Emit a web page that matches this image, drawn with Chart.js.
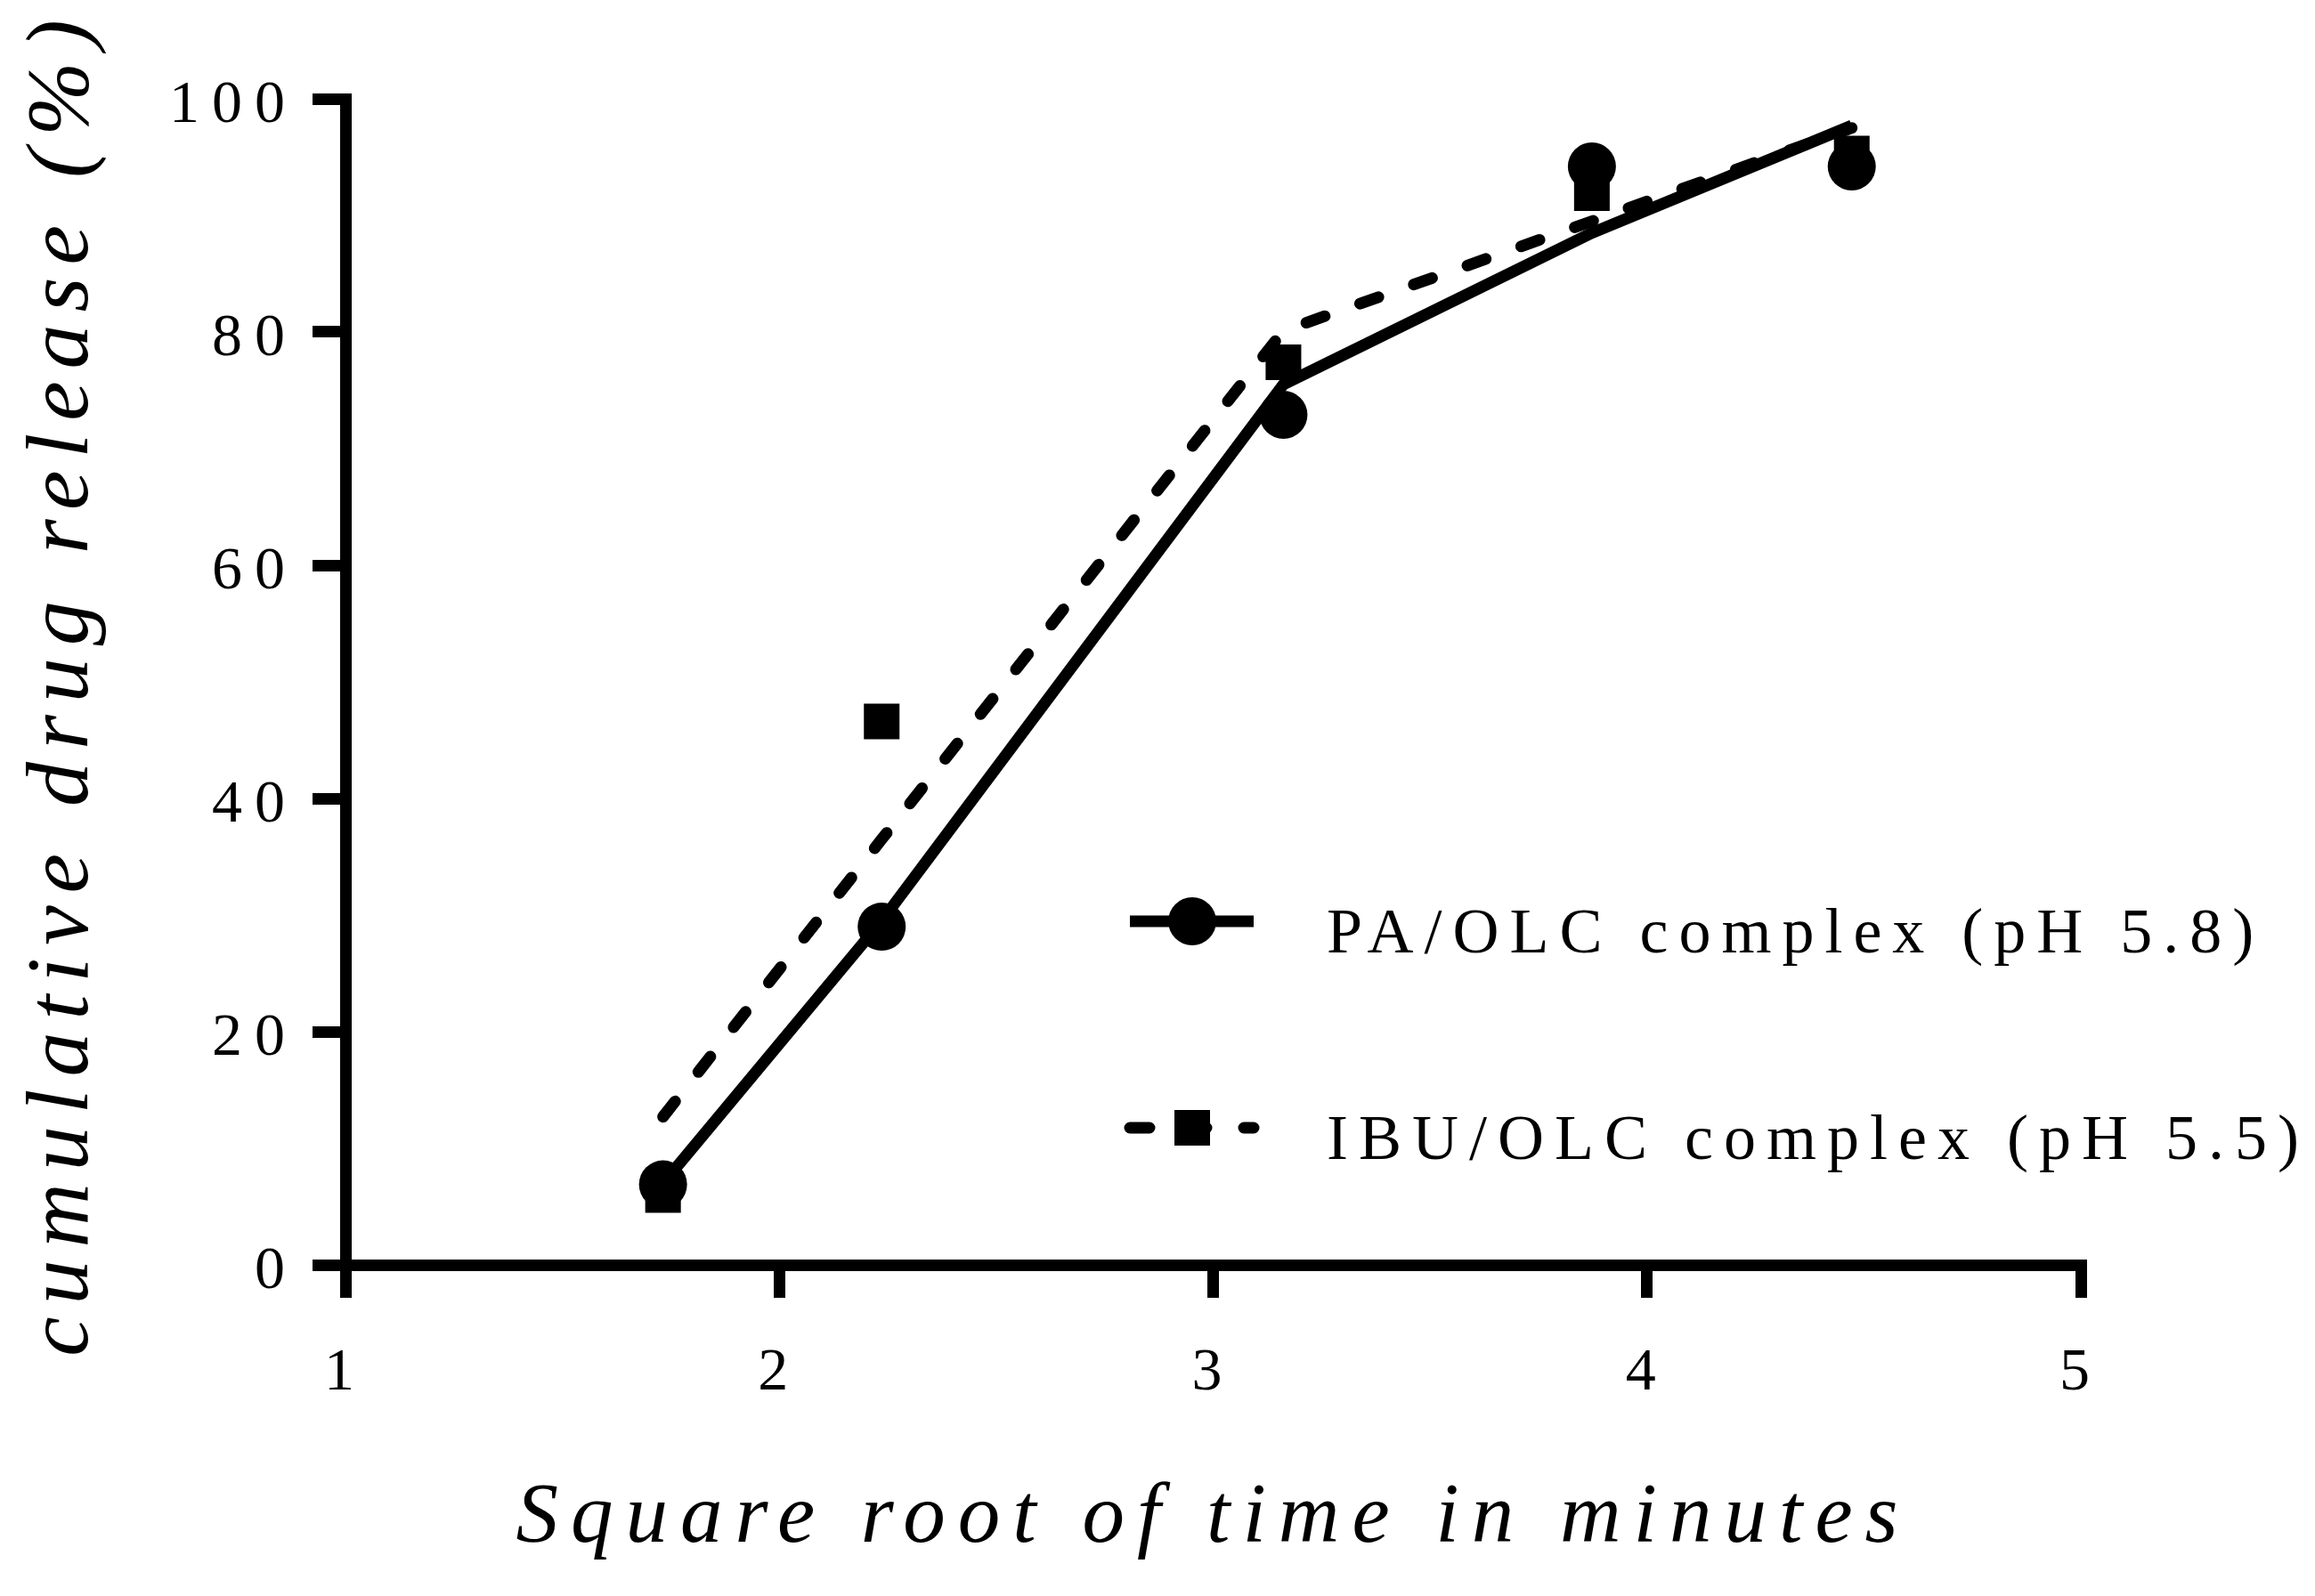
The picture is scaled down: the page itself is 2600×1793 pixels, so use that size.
<!DOCTYPE html>
<html>
<head>
<meta charset="utf-8">
<script src="https://cdn.jsdelivr.net/npm/chart.js@4.4.1/dist/chart.umd.min.js"></script>
<style>
  html, body { margin: 0; padding: 0; background: #fff; }
</style>
</head>
<body>
<canvas id="graf" width="2600" height="1793"></canvas>
<script>
// odmocnina casu (3, 5, 10, 15, 20 min)
let CAS = [1.732, 2.236, 3.162, 3.873, 4.472];

// namerene body
let PA_BODY = [6.9, 29.0, 72.9, 94.2, 94.2];
let IBU_BODY = [6.0, 46.6, 77.4, 91.9, 95.3];

// prolozene krivky
let PA_FIT = [7.0, 29.5, 75.5, 88.5, 97.7];
let IBU_FIT = [12.7, 36.5, 80.1, 89.5, 97.5];

let NAZVY = ['PA/OLC complex (pH 5.8)', 'IBU/OLC complex (pH 5.5)'];
let X_TICKY = [1, 2, 3, 4, 5];
let Y_TICKY = [0, 20, 40, 60, 80, 100];

function body(ys) {
    return CAS.map((x, i) => ({ x: x, y: ys[i] }));
}

Chart.defaults.font.family = 'Liberation Serif';
Chart.defaults.color = '#000';

// rozestupy pismen jako v originalu
const rozestup = {
    id: 'rozestup',
    beforeDraw(chart) {
        chart.ctx.letterSpacing = '14px';
    }
};

// legenda uvnitr grafu
const legenda = {
    id: 'legenda',
    afterDraw(chart) {
        const ctx = chart.ctx;
        const radky = [
            { y: 1035, dash: [], marker: 'circle', r: 27 },
            { y: 1267, dash: [22, 42], marker: 'rect', r: 28.3 }
        ];
        ctx.save();
        ctx.letterSpacing = '12px';
        radky.forEach((r, i) => {
            ctx.strokeStyle = '#000';
            ctx.lineWidth = 13;
            ctx.lineCap = r.dash.length ? 'round' : 'butt';
            ctx.setLineDash(r.dash);
            ctx.beginPath();
            ctx.moveTo(1269, r.y);
            ctx.lineTo(1408, r.y);
            ctx.stroke();
            ctx.setLineDash([]);
            ctx.fillStyle = '#000';
            Chart.helpers.drawPoint(ctx, { pointStyle: r.marker, radius: r.r, borderWidth: 0 }, 1339, r.y);
            ctx.font = '72px "Liberation Serif"';
            ctx.textBaseline = 'alphabetic';
            ctx.textAlign = 'left';
            ctx.fillText(NAZVY[i], 1490, r.y + 35);
        });
        ctx.restore();
    }
};

let ctx = document.getElementById('graf').getContext('2d');
let graf = new Chart(ctx, {
    type: 'scatter',
    data: {
        datasets: [{
            label: NAZVY[0],
            data: body(PA_BODY),
            pointStyle: 'circle',
            pointRadius: 27,
            backgroundColor: '#000',
            borderWidth: 0,
            showLine: false,
            clip: false
        }, {
            label: NAZVY[1],
            data: body(IBU_BODY),
            pointStyle: 'rect',
            pointRadius: 28.3,
            backgroundColor: '#000',
            borderWidth: 0,
            showLine: false,
            clip: false
        }, {
            label: 'fit PA',
            data: body(PA_FIT),
            showLine: true,
            pointRadius: 0,
            borderColor: '#000',
            borderWidth: 13,
            clip: false
        }, {
            label: 'fit IBU',
            data: body(IBU_FIT),
            showLine: true,
            pointRadius: 0,
            borderColor: '#000',
            borderWidth: 13,
            borderDash: [22, 42],
            borderCapStyle: 'round',
            clip: false
        }]
    },
    options: {
        responsive: false,
        devicePixelRatio: 1,
        animation: false,
        layout: { padding: { top: 111, right: 263, bottom: 0, left: 0 } },
        plugins: {
            legend: { display: false },
            tooltip: { enabled: false }
        },
        scales: {
            x: {
                type: 'linear',
                min: 1,
                max: 5,
                afterFit: s => { s.height = 372; },
                afterBuildTicks: s => { s.ticks = X_TICKY.map(v => ({ value: v })); },
                border: { display: true, color: '#000', width: 13 },
                grid: { drawOnChartArea: false, drawTicks: true, tickLength: 37, lineWidth: 13, tickWidth: 13, tickColor: '#000' },
                ticks: { font: { size: 68 }, padding: 44, maxRotation: 0, autoSkip: false },
                title: {
                    display: true,
                    text: 'Square root of time in minutes',
                    font: { size: 95, style: 'italic' },
                    padding: { top: 0, bottom: 29 }
                }
            },
            y: {
                type: 'linear',
                min: 0,
                max: 100,
                afterFit: s => { s.width = 388; },
                afterBuildTicks: s => { s.ticks = Y_TICKY.map(v => ({ value: v })); },
                border: { display: true, color: '#000', width: 13 },
                grid: { drawOnChartArea: false, drawTicks: true, tickLength: 37, lineWidth: 13, tickWidth: 13, tickColor: '#000' },
                ticks: { font: { size: 68 }, padding: 17, labelOffset: 8 },
                title: {
                    display: true,
                    text: 'cumulative drug release (%)',
                    font: { size: 100, style: 'italic' },
                    padding: { top: 12, bottom: 0 }
                }
            }
        }
    },
    plugins: [rozestup, legenda]
});
</script>
</body>
</html>
